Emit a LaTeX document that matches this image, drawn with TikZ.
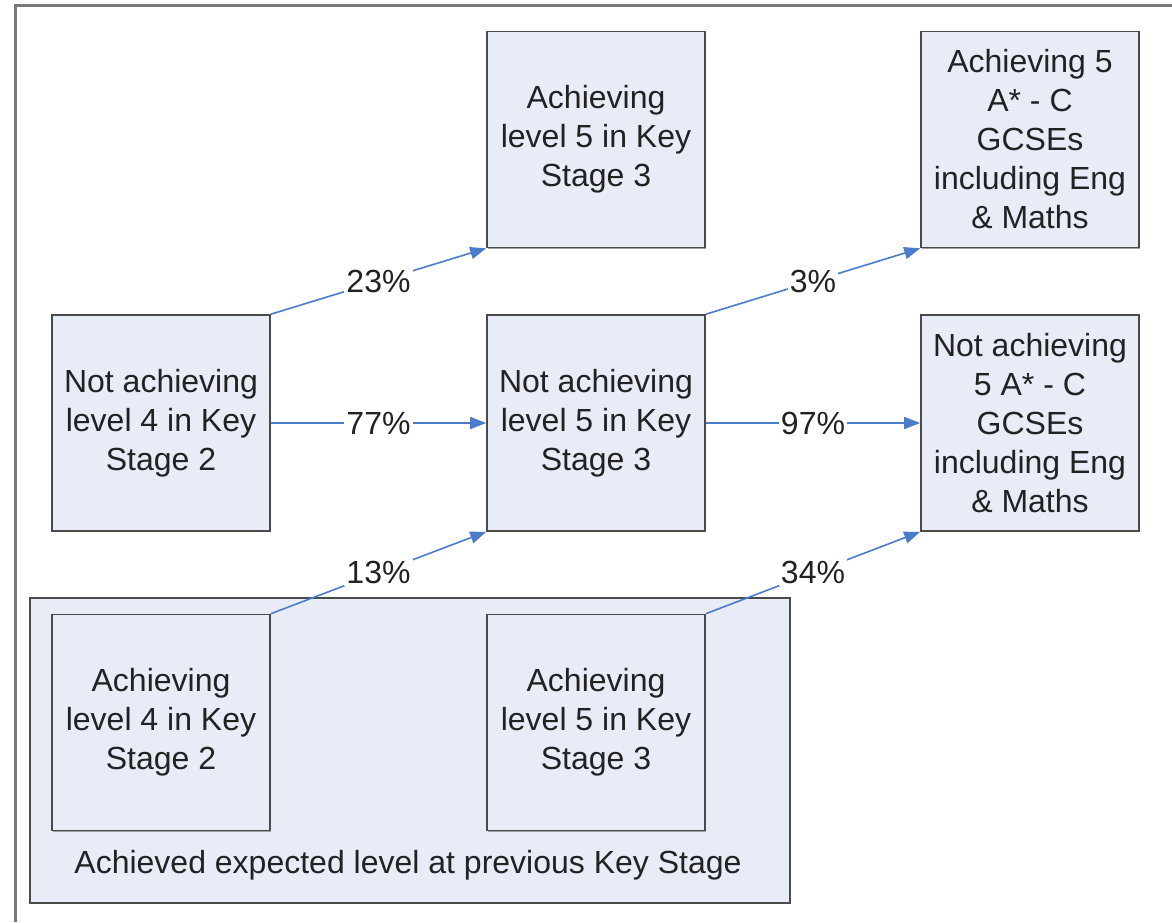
\documentclass[tikz,border=0pt]{standalone}
\usepackage{fontspec}
\setmainfont{Liberation Sans}
\usetikzlibrary{arrows.meta,shadows}
\definecolor{boxfill}{HTML}{E8ECF6}
\definecolor{boxline}{HTML}{4A4A4A}
\definecolor{arrowblue}{HTML}{4A7CC9}
\definecolor{framegray}{HTML}{7A7A7A}
\definecolor{txt}{HTML}{222222}
\tikzset{
  stagebox/.style={draw=boxline, line width=0.8pt, fill=boxfill, minimum width=109pt, minimum height=108pt,
    inner sep=0pt, align=center, text=txt, font=\fontsize{16}{19.5}\selectfont,
    drop shadow={shadow xshift=0.7pt, shadow yshift=-0.7pt, fill=black!45, opacity=0.8}},
  groupbox/.style={draw=boxline, line width=0.8pt, fill=boxfill, minimum width=380pt, minimum height=152.5pt, inner sep=0pt,
    drop shadow={shadow xshift=0.7pt, shadow yshift=-0.7pt, fill=black!45, opacity=0.8}},
  flow/.style={draw=arrowblue, line width=0.8pt, -{Triangle[length=8pt,width=6pt]}},
  pct/.style={fill=white, inner sep=1pt, text=txt, font=\fontsize{16}{19.5}\selectfont},
}
\begin{document}
\begin{tikzpicture}[x=0.5pt,y=-0.5pt]
\useasboundingbox (0,0) rectangle (1172,922);
\fill[white] (0,0) rectangle (1172,922);
\draw[framegray, line width=1.5pt] (15,922) -- (15,5) -- (1172,5);

\node[groupbox] (grp) at (410,750.5) {};
\node[text=txt, font=\fontsize{16}{19.5}\selectfont, inner sep=0pt] (grplabel) at (408,865) {Achieved expected level at previous Key Stage};

\node[stagebox] (a) at (161,423) {Not achieving\\level 4 in Key\\Stage 2};
\node[stagebox] (b) at (596,139.5) {Achieving\\level 5 in Key\\Stage 3};
\node[stagebox] (c) at (596,423) {Not achieving\\level 5 in Key\\Stage 3};
\node[stagebox] (d) at (1030,139.5) {Achieving 5\\A* - C\\GCSEs\\including Eng\\\& Maths};
\node[stagebox] (e) at (1030,423) {Not achieving\\5 A* - C\\GCSEs\\including Eng\\\& Maths};
\node[stagebox] (f) at (161,722.5) {Achieving\\level 4 in Key\\Stage 2};
\node[stagebox] (g) at (596,722.5) {Achieving\\level 5 in Key\\Stage 3};

\draw[flow] (a.north east) -- node[pct] {23\%} (b.south west);
\draw[flow] (a.east) -- node[pct] {77\%} (c.west);
\draw[flow] (f.north east) -- node[pct] {13\%} (c.south west);
\draw[flow] (c.north east) -- node[pct] {3\%} (d.south west);
\draw[flow] (c.east) -- node[pct] {97\%} (e.west);
\draw[flow] (g.north east) -- node[pct] {34\%} (e.south west);
\end{tikzpicture}
\end{document}
